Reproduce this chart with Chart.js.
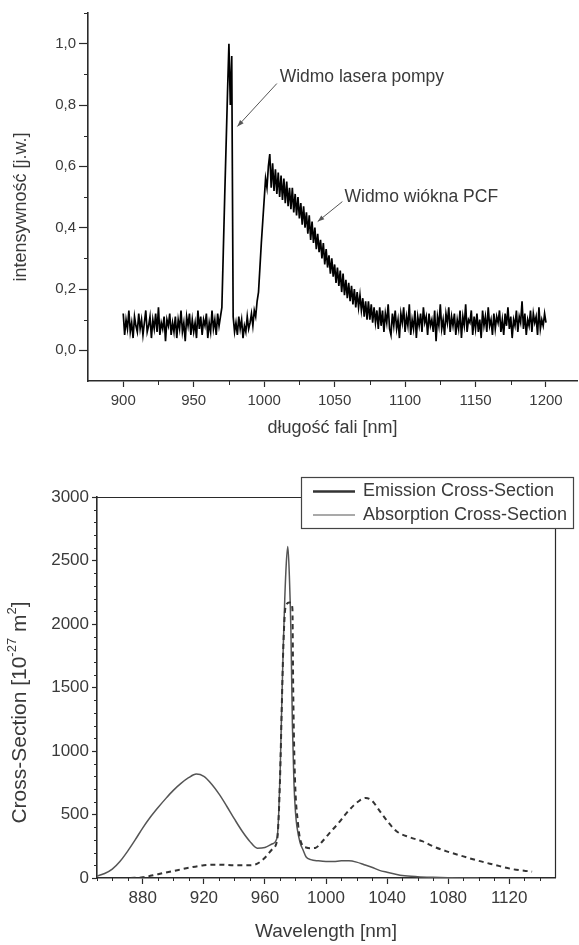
<!DOCTYPE html>
<html>
<head>
<meta charset="utf-8">
<script src="https://cdn.jsdelivr.net/npm/chart.js@4.4.0/dist/chart.umd.min.js"></script>
<style>
  html, body { margin: 0; padding: 0; background: #fff; }
  body { width: 579px; height: 945px; position: relative; overflow: hidden; }
  .box { position: absolute; left: 0; width: 579px; }
  #top { top: 0; height: 445px; }
  #bottom { top: 450px; height: 495px; }
</style>
</head>
<body>
<div class="box" id="top"><canvas id="pump-chart"></canvas></div>
<div class="box" id="bottom"><canvas id="cross-chart"></canvas></div>
<script>
// chart 1 - pump laser + PCF fibre spectrum, one reading per nm from 900 nm
const spectrumStart = 900;
const spectrumValues = [
  0.12, 0.05, 0.10, 0.07, 0.13, 0.06, 0.09, 0.04, 0.11, 0.08,
  0.06, 0.12, 0.07, 0.10, 0.05, 0.09, 0.13, 0.06, 0.08, 0.11,
  0.04, 0.10, 0.07, 0.12, 0.06, 0.14, 0.05, 0.09, 0.07, 0.11,
  0.03, 0.10, 0.08, 0.12, 0.05, 0.09, 0.06, 0.11, 0.04, 0.10,
  0.07, 0.13, 0.06, 0.09, 0.03, 0.11, 0.08, 0.12, 0.05, 0.10,
  0.06, 0.09, 0.04, 0.13, 0.07, 0.11, 0.05, 0.10, 0.08, 0.12,
  0.04, 0.09, 0.06, 0.13, 0.07, 0.10, 0.05, 0.12, 0.08, 0.11,
  0.14, 0.32, 0.50, 0.67, 0.84, 1.00, 0.80, 0.96, 0.11, 0.06,
  0.09, 0.05, 0.11, 0.07, 0.10, 0.04, 0.08, 0.06, 0.11, 0.07,
  0.09, 0.12, 0.08, 0.13, 0.11, 0.16, 0.19, 0.27, 0.35, 0.42,
  0.49, 0.56, 0.53, 0.60, 0.64, 0.53, 0.61, 0.52, 0.59, 0.51,
  0.58, 0.50, 0.57, 0.49, 0.56, 0.48, 0.55, 0.47, 0.53, 0.46,
  0.53, 0.45, 0.51, 0.44, 0.50, 0.43, 0.48, 0.41, 0.47, 0.40,
  0.45, 0.38, 0.44, 0.36, 0.42, 0.35, 0.40, 0.33, 0.38, 0.32,
  0.36, 0.30, 0.35, 0.28, 0.33, 0.27, 0.31, 0.25, 0.30, 0.24,
  0.28, 0.22, 0.27, 0.21, 0.26, 0.19, 0.25, 0.18, 0.23, 0.17,
  0.22, 0.16, 0.21, 0.15, 0.20, 0.14, 0.19, 0.14, 0.18, 0.13,
  0.17, 0.11, 0.16, 0.10, 0.16, 0.10, 0.15, 0.09, 0.14, 0.09,
  0.13, 0.07, 0.14, 0.08, 0.13, 0.06, 0.12, 0.09, 0.15, 0.07,
  0.05, 0.12, 0.08, 0.13, 0.07, 0.10, 0.04, 0.12, 0.09, 0.14,
  0.06, 0.11, 0.08, 0.15, 0.05, 0.10, 0.07, 0.13, 0.04, 0.11,
  0.08, 0.12, 0.06, 0.14, 0.09, 0.11, 0.05, 0.12, 0.08, 0.10,
  0.06, 0.13, 0.03, 0.11, 0.08, 0.15, 0.07, 0.10, 0.05, 0.12,
  0.09, 0.14, 0.06, 0.11, 0.08, 0.12, 0.05, 0.10, 0.07, 0.13,
  0.04, 0.11, 0.08, 0.15, 0.06, 0.10, 0.09, 0.13, 0.05, 0.11,
  0.07, 0.12, 0.06, 0.10, 0.04, 0.13, 0.08, 0.11, 0.06, 0.14,
  0.08, 0.10, 0.05, 0.12, 0.07, 0.11, 0.09, 0.13, 0.06, 0.10,
  0.05, 0.12, 0.08, 0.14, 0.07, 0.11, 0.04, 0.10, 0.08, 0.13,
  0.06, 0.11, 0.09, 0.16, 0.07, 0.12, 0.05, 0.10, 0.08, 0.13,
  0.06, 0.12, 0.09, 0.11, 0.05, 0.14, 0.07, 0.10, 0.08, 0.12,
  0.09
];
const spectrumWavelengths = spectrumValues.map((v, i) => spectrumStart + i);
const spectrumXTicks = [900, 950, 1000, 1050, 1100, 1150, 1200];
const spectrumXMinor = [925, 975, 1025, 1075, 1125, 1175];
const spectrumYTicks = [0, 0.2, 0.4, 0.6, 0.8, 1.0];
const spectrumYMinor = [0.1, 0.3, 0.5, 0.7, 0.9, 1.1];

// chart 2 - Yb cross sections
const emissionWl = [872, 880, 890, 900, 910, 920, 930, 940, 950, 955, 960, 965, 968, 969, 970, 971, 972, 973, 974, 976, 977, 978, 978.5, 979.5, 981.7, 984, 987, 990, 993, 997, 1002, 1008, 1013, 1018, 1022, 1026, 1030, 1035, 1040, 1046, 1055, 1063, 1070, 1079, 1090, 1100, 1110, 1122, 1135];
const emissionVal = [0, 5, 30, 55, 80, 100, 105, 100, 100, 113, 160, 230, 300, 480, 830, 1330, 1800, 2080, 2150, 2170, 2165, 2120, 1500, 850, 425, 270, 240, 235, 237, 280, 350, 430, 505, 570, 610, 630, 610, 530, 450, 370, 320, 290, 250, 210, 170, 135, 105, 70, 50];
const absorptionWl = [850, 855, 860, 865, 870, 875, 880, 885, 890, 895, 900, 905, 910, 915, 920, 925, 930, 935, 940, 945, 950, 955, 960, 965, 968, 969, 970, 971, 972, 973, 974, 975, 976, 977, 978, 979, 980, 981, 983, 985, 987, 990, 995, 1000, 1005, 1010, 1015, 1020, 1025, 1030, 1035, 1040, 1045, 1050, 1060, 1070, 1080, 1090, 1100];
const absorptionVal = [15, 35, 70, 130, 210, 300, 395, 480, 555, 625, 690, 745, 790, 818, 800, 740, 660, 565, 465, 370, 290, 235, 240, 270, 320, 500, 850, 1350, 1820, 2200, 2480, 2610, 2380, 1950, 1200, 750, 520, 400, 280, 220, 165, 145, 135, 130, 130, 135, 135, 125, 105, 85, 60, 45, 32, 20, 10, 5, 2, 0, 0];
const crossXTicks = [880, 920, 960, 1000, 1040, 1080, 1120];
const crossXMinor = [850, 860, 870, 890, 900, 910, 930, 940, 950, 970, 980, 990, 1010, 1020, 1030, 1050, 1060, 1070, 1090, 1100, 1110, 1130, 1140];
const crossYTicks = [0, 500, 1000, 1500, 2000, 2500, 3000];
const crossYMinor = [100, 200, 300, 400, 600, 700, 800, 900, 1100, 1200, 1300, 1400, 1600, 1700, 1800, 1900, 2100, 2200, 2300, 2400, 2600, 2700, 2800, 2900];

const FONT = "'Liberation Sans', Arial, sans-serif";
const INK = '#3a3a3a';
const AXIS = '#2a2a2a';

// short ticks between the labelled ones
const minorTicks = {
  id: 'minorTicks',
  afterDraw(chart, args, opts) {
    const ctx = chart.ctx;
    ctx.save();
    ctx.strokeStyle = AXIS;
    ctx.lineWidth = 1;
    ctx.beginPath();
    Object.keys(opts.values).forEach((id) => {
      const scale = chart.scales[id];
      opts.values[id].forEach((v) => {
        const p = Math.round(scale.getPixelForValue(v)) + 0.5;
        if (scale.isHorizontal()) {
          ctx.moveTo(p, scale.top);
          ctx.lineTo(p, scale.top + opts.length);
        } else {
          ctx.moveTo(scale.right - opts.length, p);
          ctx.lineTo(scale.right, p);
        }
      });
    });
    ctx.stroke();
    ctx.restore();
  }
};

// rotated y-axis title, parts can be superscript
const sideTitle = {
  id: 'sideTitle',
  afterDraw(chart, args, opts) {
    const { ctx, chartArea: area } = chart;
    const small = Math.round(opts.size * 0.6);
    ctx.save();
    ctx.fillStyle = INK;
    ctx.textBaseline = 'middle';
    let total = 0;
    opts.parts.forEach((p) => {
      ctx.font = `${p.sup ? small : opts.size}px ${FONT}`;
      total += ctx.measureText(p.t).width;
    });
    ctx.translate(opts.x, (area.top + area.bottom) / 2 + opts.shift);
    ctx.rotate(-Math.PI / 2);
    let pos = -total / 2;
    opts.parts.forEach((p) => {
      ctx.font = `${p.sup ? small : opts.size}px ${FONT}`;
      ctx.fillText(p.t, pos, p.sup ? -opts.size * 0.38 : 0);
      pos += ctx.measureText(p.t).width;
    });
    ctx.restore();
  }
};

// text labels with arrows (chart 1)
const spectrumNotes = [
  { text: 'Widmo lasera pompy', at: [1011, 0.89], from: [1009, 0.87], to: [981, 0.73] },
  { text: 'Widmo wiókna PCF', at: [1057, 0.50], from: [1055.5, 0.485], to: [1038, 0.42] },
];

const notes = {
  id: 'notes',
  afterDraw(chart, args, opts) {
    const { ctx, scales: { x, y } } = chart;
    ctx.save();
    opts.items.forEach((n) => {
      ctx.fillStyle = INK;
      ctx.font = `17.5px ${FONT}`;
      ctx.textBaseline = 'middle';
      ctx.fillText(n.text, x.getPixelForValue(n.at[0]), y.getPixelForValue(n.at[1]));

      const x1 = x.getPixelForValue(n.from[0]), y1 = y.getPixelForValue(n.from[1]);
      const x2 = x.getPixelForValue(n.to[0]), y2 = y.getPixelForValue(n.to[1]);
      const a = Math.atan2(y2 - y1, x2 - x1);
      ctx.strokeStyle = '#555';
      ctx.fillStyle = '#555';
      ctx.lineWidth = 1;
      ctx.beginPath();
      ctx.moveTo(x1, y1);
      ctx.lineTo(x2, y2);
      ctx.stroke();
      ctx.beginPath();
      ctx.moveTo(x2, y2);
      ctx.lineTo(x2 - 7 * Math.cos(a - 0.35), y2 - 7 * Math.sin(a - 0.35));
      ctx.lineTo(x2 - 7 * Math.cos(a + 0.35), y2 - 7 * Math.sin(a + 0.35));
      ctx.closePath();
      ctx.fill();
    });
    ctx.restore();
  }
};

// top/right frame and the boxed legend (chart 2)
const frameLegend = {
  id: 'frameLegend',
  afterDraw(chart, args, opts) {
    const { ctx, chartArea: area } = chart;
    ctx.save();
    ctx.strokeStyle = AXIS;
    ctx.lineWidth = 1.2;
    ctx.beginPath();
    ctx.moveTo(area.left, area.top + 0.5);
    ctx.lineTo(area.right + 0.5, area.top + 0.5);
    ctx.lineTo(area.right + 0.5, area.bottom);
    ctx.stroke();

    const bx = area.left + 204, by = area.top - 20, bw = 272, bh = 51;
    ctx.fillStyle = '#fff';
    ctx.fillRect(bx, by, bw, bh);
    ctx.strokeStyle = '#444';
    ctx.lineWidth = 1.2;
    ctx.strokeRect(bx + 0.5, by + 0.5, bw, bh);

    ctx.font = `18px ${FONT}`;
    ctx.textBaseline = 'middle';
    chart.data.datasets.forEach((ds, i) => {
      const ry = by + 14.5 + i * 23.5;
      ctx.strokeStyle = ds.borderColor;
      ctx.lineWidth = opts.lineWidths[i];
      ctx.setLineDash([]);
      ctx.beginPath();
      ctx.moveTo(bx + 12, ry);
      ctx.lineTo(bx + 54, ry);
      ctx.stroke();
      ctx.fillStyle = INK;
      ctx.fillText(ds.label, bx + 62, ry);
    });
    ctx.restore();
  }
};

new Chart(document.getElementById('pump-chart'), {
  type: 'line',
  data: {
    labels: spectrumWavelengths,
    datasets: [{
      data: spectrumValues,
      borderColor: '#000',
      borderWidth: 1.7,
      pointRadius: 0,
      tension: 0,
    }],
  },
  options: {
    responsive: true,
    maintainAspectRatio: false,
    animation: false,
    layout: { padding: { left: 0, right: 2, top: 13, bottom: 0 } },
    scales: {
      x: {
        type: 'linear',
        min: 875,
        max: 1222,
        afterBuildTicks: (s) => { s.ticks = spectrumXTicks.map((v) => ({ value: v })); },
        afterFit: (s) => { s.height = 64; },
        grid: { drawOnChartArea: false, tickLength: 6, tickColor: AXIS, tickWidth: 1.2 },
        border: { color: AXIS, width: 1.6 },
        ticks: { color: INK, font: { family: FONT, size: 15 }, padding: 5, maxRotation: 0, autoSkip: false, callback: (v) => String(v) },
        title: { display: true, text: 'długość fali [nm]', color: INK, font: { family: FONT, size: 18 }, padding: { top: 0, bottom: 6 } },
      },
      y: {
        min: -0.1,
        max: 1.1,
        afterBuildTicks: (s) => { s.ticks = spectrumYTicks.map((v) => ({ value: v })); },
        afterFit: (s) => { s.width = 88; },
        grid: { drawOnChartArea: false, tickLength: 9, tickColor: AXIS, tickWidth: 1.2 },
        border: { color: AXIS, width: 1.6 },
        ticks: { color: INK, font: { family: FONT, size: 15 }, padding: 3, callback: (v) => v.toFixed(1).replace('.', ',') },
      },
    },
    plugins: {
      legend: { display: false },
      tooltip: { enabled: false },
      minorTicks: { length: 4, values: { x: spectrumXMinor, y: spectrumYMinor } },
      notes: { items: spectrumNotes },
      sideTitle: { x: 21, shift: 10, size: 18, parts: [{ t: 'intensywność [j.w.]' }] },
    },
  },
  plugins: [minorTicks, notes, sideTitle],
});

new Chart(document.getElementById('cross-chart'), {
  type: 'line',
  data: {
    datasets: [
      {
        label: 'Emission Cross-Section',
        data: emissionWl.map((w, i) => ({ x: w, y: emissionVal[i] })),
        borderColor: '#333',
        borderWidth: 2,
        borderDash: [5, 4],
        pointRadius: 0,
        cubicInterpolationMode: 'monotone',
      },
      {
        label: 'Absorption Cross-Section',
        data: absorptionWl.map((w, i) => ({ x: w, y: absorptionVal[i] })),
        borderColor: '#555',
        borderWidth: 1.5,
        pointRadius: 0,
        cubicInterpolationMode: 'monotone',
      },
    ],
  },
  options: {
    responsive: true,
    maintainAspectRatio: false,
    animation: false,
    layout: { padding: { left: 0, right: 24, top: 47, bottom: 0 } },
    scales: {
      x: {
        type: 'linear',
        min: 850,
        max: 1150,
        afterBuildTicks: (s) => { s.ticks = crossXTicks.map((v) => ({ value: v })); },
        afterFit: (s) => { s.height = 67; },
        grid: { drawOnChartArea: false, tickLength: 6, tickColor: AXIS, tickWidth: 1.2 },
        border: { color: AXIS, width: 1.6 },
        ticks: { color: INK, font: { family: FONT, size: 17 }, padding: 4, maxRotation: 0, autoSkip: false, callback: (v) => String(v) },
        title: { display: true, text: 'Wavelength [nm]', color: INK, font: { family: FONT, size: 19 }, padding: { top: 0, bottom: 2 } },
      },
      y: {
        min: 0,
        max: 3000,
        afterBuildTicks: (s) => { s.ticks = crossYTicks.map((v) => ({ value: v })); },
        afterFit: (s) => { s.width = 97; },
        grid: { drawOnChartArea: false, tickLength: 5, tickColor: AXIS, tickWidth: 1.2 },
        border: { color: AXIS, width: 1.6 },
        ticks: { color: INK, font: { family: FONT, size: 17 }, padding: 3, callback: (v) => String(v) },
      },
    },
    plugins: {
      legend: { display: false },
      tooltip: { enabled: false },
      minorTicks: { length: 3, values: { x: crossXMinor, y: crossYMinor } },
      frameLegend: { lineWidths: [2.6, 1.2] },
      sideTitle: {
        x: 20, shift: 25, size: 21,
        parts: [{ t: 'Cross-Section [10' }, { t: '-27', sup: true }, { t: ' m' }, { t: '2', sup: true }, { t: ']' }],
      },
    },
  },
  plugins: [minorTicks, frameLegend, sideTitle],
});
</script>
</body>
</html>
